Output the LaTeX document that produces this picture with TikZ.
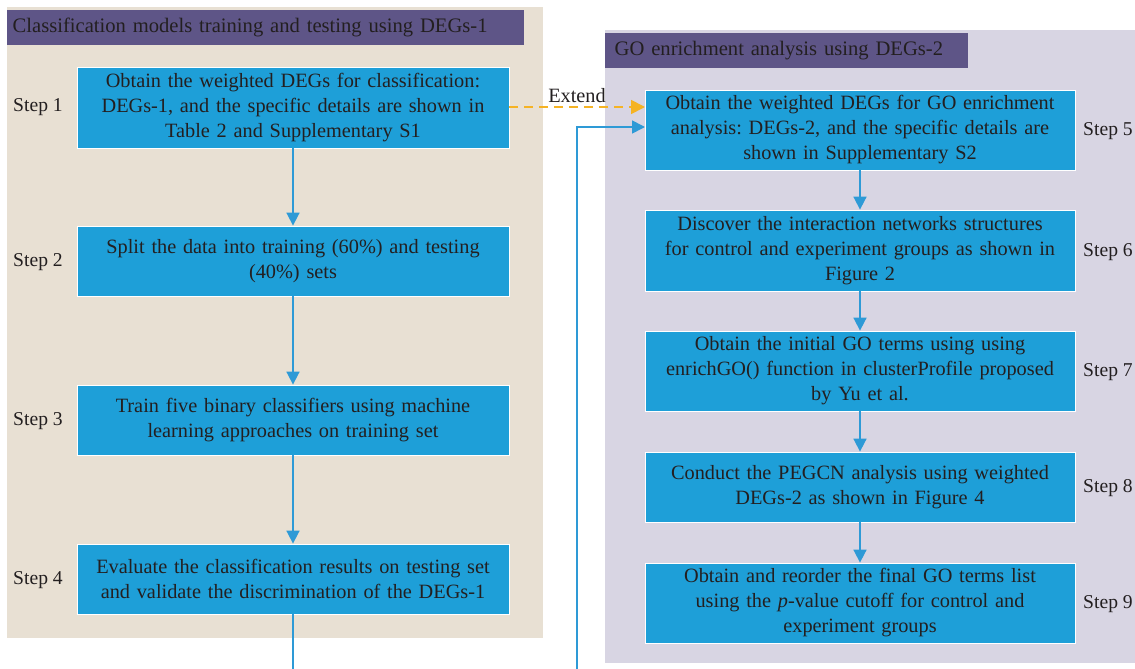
\documentclass[tikz,border=0pt]{standalone}
\usepackage{fontspec}
\setmainfont{Liberation Serif}
\usetikzlibrary{arrows.meta}
\definecolor{boxblue}{RGB}{30,159,216}
\definecolor{hdrpurple}{RGB}{94,85,135}
\definecolor{beige}{RGB}{232,224,211}
\definecolor{lav}{RGB}{216,213,227}
\definecolor{arrblue}{RGB}{46,154,214}
\definecolor{orng}{RGB}{245,179,36}
\definecolor{txt}{RGB}{35,31,32}
\tikzset{
  stepbox/.style={draw=white, line width=0.8pt, fill=boxblue, text=txt, align=center,
    inner sep=2pt, font=\fontsize{20.3}{25}\selectfont\frenchspacing},
  lbox/.style={stepbox, minimum width=432pt, text width=428pt},
  rbox/.style={stepbox, minimum width=430pt, text width=426pt},
  steplab/.style={text=txt, font=\fontsize{19.6}{22}\selectfont},
  hdr/.style={fill=hdrpurple, text=txt, anchor=north west, inner sep=0pt, font=\fontsize{20.6}{22}\selectfont},
  flow/.style={draw=arrblue, line width=1.7pt, -{Triangle[length=13pt,width=13pt]}},
  link/.style={draw=arrblue, line width=1.7pt}
}
\begin{document}
\begin{tikzpicture}[x=1pt,y=-1pt]
\useasboundingbox (0,0) rectangle (1135,669);
% panels
\fill[beige] (7,7) rectangle (543,638);
\fill[lav] (605,30) rectangle (1135,663);
\node[hdr, minimum width=517pt, minimum height=35pt, text width=510pt, align=left] (h1) at (7,10) {\hspace*{2pt}Classification models training and testing using DEGs-1};
\node[hdr, minimum width=363pt, minimum height=35pt, text width=356pt, align=left] (h2) at (605,33) {\hspace*{6pt}GO enrichment analysis using DEGs-2};
% left boxes
\node[lbox, minimum height=81pt] (s1) at (293,107.5) {Obtain the weighted DEGs for classification:\\DEGs-1, and the specific details are shown in\\Table 2 and Supplementary S1};
\node[lbox, minimum height=70pt] (s2) at (293,261) {Split the data into training (60\%) and testing\\(40\%) sets};
\node[lbox, minimum height=70pt] (s3) at (293,420) {Train five binary classifiers using machine\\learning approaches on training set};
\node[lbox, minimum height=70pt] (s4) at (293,579) {Evaluate the classification results on testing set\\and validate the discrimination of the DEGs-1};
% right boxes
\node[rbox, minimum height=80pt] (s5) at (860,130) {Obtain the weighted DEGs for GO enrichment\\analysis: DEGs-2, and the specific details are\\shown in Supplementary S2};
\node[rbox, minimum height=81pt] (s6) at (860,250.5) {Discover the interaction networks structures\\for control and experiment groups as shown in\\Figure 2};
\node[rbox, minimum height=80pt] (s7) at (860,371) {Obtain the initial GO terms using using\\enrichGO() function in clusterProfile proposed\\by Yu et al.};
\node[rbox, minimum height=70pt] (s8) at (860,487) {Conduct the PEGCN analysis using weighted\\DEGs-2 as shown in Figure 4};
\node[rbox, minimum height=80pt] (s9) at (860,603) {Obtain and reorder the final GO terms list\\using the \textit{p}-value cutoff for control and\\experiment groups};
% step labels
\node[steplab] (l1) at (38,107) {Step 1};
\node[steplab] (l2) at (38,262) {Step 2};
\node[steplab] (l3) at (38,421) {Step 3};
\node[steplab] (l4) at (38,580) {Step 4};
\node[steplab] (l5) at (1108,131) {Step 5};
\node[steplab] (l6) at (1108,252) {Step 6};
\node[steplab] (l7) at (1108,372) {Step 7};
\node[steplab] (l8) at (1108,488) {Step 8};
\node[steplab] (l9) at (1108,604) {Step 9};
% arrows
\draw[flow] (s1) -- (s2);
\draw[flow] (s2) -- (s3);
\draw[flow] (s3) -- (s4);
\draw[flow] (s5) -- (s6);
\draw[flow] (s6) -- (s7);
\draw[flow] (s7) -- (s8);
\draw[flow] (s8) -- (s9);
\coordinate (b1) at (293,669);
\coordinate (b2) at (577,669);
\coordinate (e5) at (645,127);
\draw[link] (s4) -- (b1);
\draw[flow] (b2) |- (e5);
\coordinate (x1) at (509,107);
\coordinate (x5) at (645,107);
\draw[draw=orng, line width=1.7pt, dash pattern=on 9pt off 6pt, -{Triangle[length=14pt,width=14pt]}] (x1) -- node[above=0pt, text=txt, font=\fontsize{20.3}{22}\selectfont] (ext) {Extend} (x5);
\end{tikzpicture}
\end{document}
